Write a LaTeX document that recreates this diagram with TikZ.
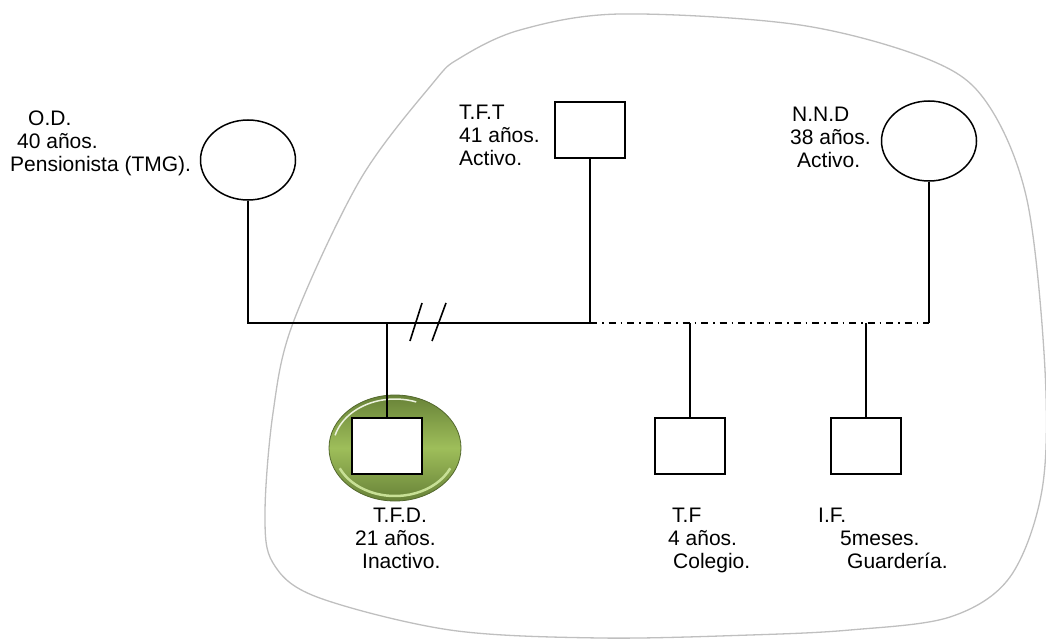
\documentclass[tikz,border=0pt]{standalone}
\usepackage{fontspec}
\setmainfont{Liberation Sans}
\usepackage{tikz}
\usetikzlibrary{shapes.geometric}
\definecolor{olivedk}{RGB}{104,130,56}
\definecolor{olivelt}{RGB}{158,190,90}
\definecolor{oliverim}{RGB}{200,224,150}

\begin{document}
\begin{tikzpicture}[x=1pt,y=-1pt,
  female/.style={draw,ellipse,line width=1.5pt,minimum width=95pt,minimum height=80pt,inner sep=0pt},
  male/.style={draw,rectangle,line width=1.7pt,fill=white,minimum width=70pt,minimum height=56pt,inner sep=0pt},
  lbl/.style={anchor=north west,inner sep=0pt,align=left,font=\fontsize{21}{23}\selectfont},
  rel/.style={line width=1.6pt},
  sep/.style={line width=1.6pt,dash pattern=on 7pt off 5pt on 1.5pt off 5pt}]
\useasboundingbox (0,0) rectangle (1046,639);
% family border
\draw[black!25,line width=1.3pt] plot[smooth cycle,tension=0.55] coordinates {(620,14) (520,30) (460,58) (433,83) (360,180) (293,323) (273,413) (265,513) (273,563) (317,597) (450,630) (600,638) (750,635) (850,630) (950,617) (1010,577) (1042,490) (1045,370) (1027,200) (987,103) (930,60) (800,25)};
% parents
\node[female] (OD) at (248,160) {};
\node[male] (TFT) at (590,130) {};
\node[female] (NND) at (929,141) {};
\node[lbl] (tOD) at (10,111) {\hspace*{18pt}O.D.\\\hspace*{7pt}40 años.\\Pensionista (TMG).};
\node[lbl] (tTFT) at (459,105) {T.F.T\\41 años.\\Activo.};
\node[lbl] (tNND) at (790,107) {\hspace*{2pt}N.N.D\\38 años.\\\hspace*{7pt}Activo.};
% index person
\node[ellipse,minimum width=132pt,minimum height=106pt,draw=olivedk!80!black,line width=0.8pt,
  top color=olivedk,bottom color=olivedk,middle color=olivelt] (hl) at (395,448) {};
\draw[oliverim,line width=2.5pt] (hl.center) ++(25:61 and 48) arc[start angle=25,end angle=155,x radius=61,y radius=48];
\draw[white!80!olivelt,line width=1.5pt] (hl.center) ++(195:62 and 49) arc[start angle=195,end angle=290,x radius=62,y radius=49];
% children
\node[male] (TFD) at (387,446) {};
\node[male] (TF) at (690,446) {};
\node[male] (IF) at (866,446) {};
\node[lbl] (tTFD) at (355,508) {\hspace*{18pt}T.F.D.\\21 años.\\\hspace*{7pt}Inactivo.};
\node[lbl] (tTF) at (668,508) {\hspace*{4pt}T.F\\4 años.\\\hspace*{5pt}Colegio.};
\node[lbl] (tIF) at (818,508) {I.F.\\\hspace*{22pt}5meses.\\\hspace*{29pt}Guardería.};
% unions
\coordinate (m1) at (OD.south |- 0,323);
\coordinate (m2) at (TFT.south |- 0,323);
\coordinate (m3) at (NND.south |- 0,323);
\draw[rel] (OD) -- (m1) -- (m2) -- (TFT);
\draw[sep] (m2) -- (m3);
\draw[rel] (m3) -- (NND);
\draw[rel] (410,341) -- (422,303) (432,341) -- (446,303);
\draw[rel] (TFD |- m1) -- (TFD);
\draw[rel] (TF |- m1) -- (TF);
\draw[rel] (IF |- m1) -- (IF);
\end{tikzpicture}
\end{document}
